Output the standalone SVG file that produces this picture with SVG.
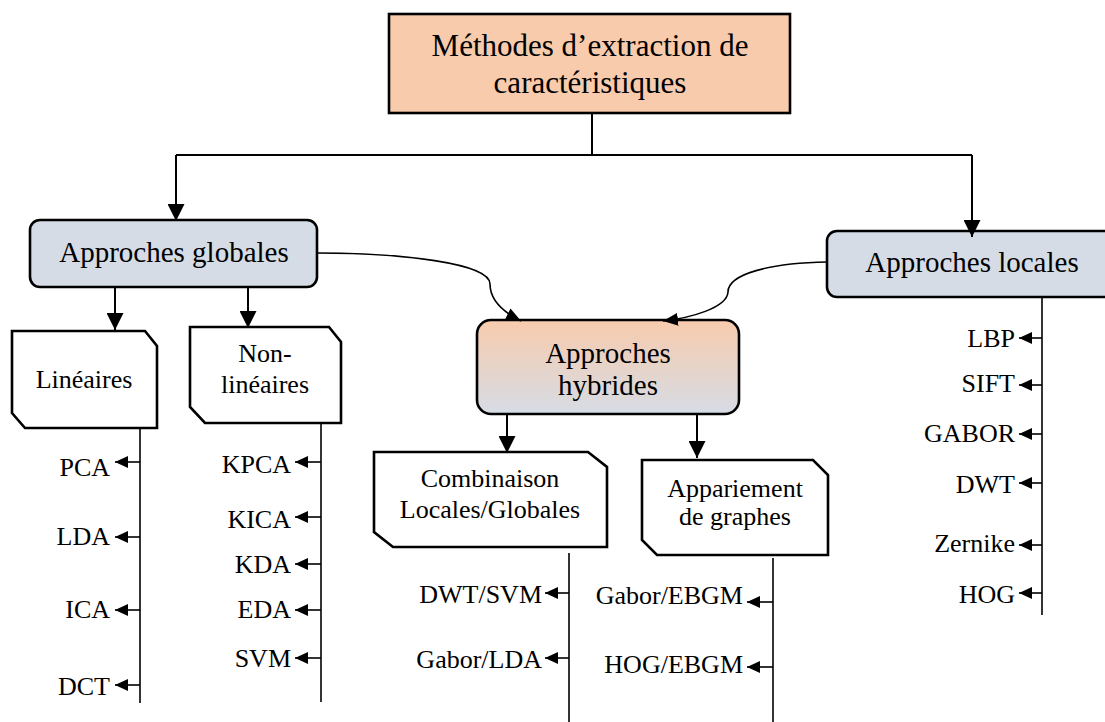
<svg xmlns="http://www.w3.org/2000/svg" width="1105" height="722" viewBox="0 0 1105 722">
  <style>
    text { font-family: "Liberation Serif", "Times New Roman", serif; fill: #000; }
    .t31 { font-size: 31px; text-anchor: middle; }
    .t29 { font-size: 29px; text-anchor: middle; }
    .t26 { font-size: 26px; text-anchor: middle; }
    .lbl { font-size: 26px; text-anchor: end; }
    .box { stroke: #000; stroke-width: 2.6; }
    .tag { fill: #fff; stroke: #000; stroke-width: 2.6; stroke-linejoin: miter; }
    .main { fill: none; stroke: #000; stroke-width: 2; }
    .curve { fill: none; stroke: #000; stroke-width: 1.6; }
    .spine { fill: none; stroke: #000; stroke-width: 1.6; }
    .tick { fill: none; stroke: #000; stroke-width: 1.6; }
  </style>
  <defs>
    <linearGradient id="hybridFill" x1="0" y1="0" x2="0" y2="1">
      <stop offset="0" stop-color="#F8CBAD"/>
      <stop offset="1" stop-color="#D6DCE5"/>
    </linearGradient>
    <marker id="bigHead" viewBox="0 0 10 10" refX="10" refY="5" markerWidth="17" markerHeight="17" markerUnits="userSpaceOnUse" orient="auto" preserveAspectRatio="none">
      <path d="M0,0 L10,5 L0,10 Z" fill="#000"/>
    </marker>
    <marker id="curveHead" viewBox="0 0 10 10" refX="10" refY="5" markerWidth="15" markerHeight="13" markerUnits="userSpaceOnUse" orient="auto" preserveAspectRatio="none">
      <path d="M0,0 L10,5 L0,10 Z" fill="#000"/>
    </marker>
    <marker id="tickHead" viewBox="0 0 10 10" refX="10" refY="5" markerWidth="13" markerHeight="12" markerUnits="userSpaceOnUse" orient="auto" preserveAspectRatio="none">
      <path d="M0,0 L10,5 L0,10 Z" fill="#000"/>
    </marker>
  </defs>

  <rect width="1105" height="722" fill="#fff"/>

  <!-- root -->
  <g id="node-methodes">
    <rect class="box" x="389" y="14" width="401" height="99" fill="#F8CBAD"/>
    <text class="t31" x="590" y="56">Méthodes d’extraction de</text>
    <text class="t31" x="590" y="93">caractéristiques</text>
  </g>

  <!-- first level -->
  <g id="node-globales">
    <rect class="box" x="30" y="220" width="287" height="67" rx="10" fill="#D6DCE5"/>
    <text class="t29" x="174" y="262">Approches globales</text>
  </g>
  <g id="node-locales">
    <rect class="box" x="827" y="231" width="290" height="66" rx="10" fill="#D6DCE5"/>
    <text class="t29" x="972" y="272">Approches locales</text>
  </g>
  <g id="node-hybrides">
    <rect class="box" x="477" y="320" width="262" height="94" rx="14" fill="url(#hybridFill)"/>
    <text class="t29" x="608" y="363">Approches</text>
    <text class="t29" x="608" y="395">hybrides</text>
  </g>

  <!-- second level -->
  <g id="node-lineaires">
    <path class="tag" d="M12,331 H145 L157,346 V428 H25 L12,413 Z"/>
    <text class="t26" x="84" y="388">Linéaires</text>
  </g>
  <g id="node-nonlineaires">
    <path class="tag" d="M190,327 H329 L341,342 V423 H205 L190,407 Z"/>
    <text class="t26" x="265" y="362">Non-</text>
    <text class="t26" x="265" y="393">linéaires</text>
  </g>
  <g id="node-combinaison">
    <path class="tag" d="M374,452 H588 L607,467 V547 H393 L374,532 Z"/>
    <text class="t26" x="490" y="487">Combinaison</text>
    <text class="t26" x="490" y="518">Locales/Globales</text>
  </g>
  <g id="node-appariement">
    <path class="tag" d="M642,460 H813 L828,475 V555 H657 L642,540 Z"/>
    <text class="t26" x="735" y="497">Appariement</text>
    <text class="t26" x="735" y="525">de graphes</text>
  </g>

  <!-- leaf labels -->
  <g id="leaves-lineaires">
    <text class="lbl" x="110" y="476">PCA</text>
    <text class="lbl" x="110" y="545">LDA</text>
    <text class="lbl" x="110" y="618">ICA</text>
    <text class="lbl" x="110" y="695">DCT</text>
  </g>
  <g id="leaves-nonlineaires">
    <text class="lbl" x="291" y="473">KPCA</text>
    <text class="lbl" x="291" y="528">KICA</text>
    <text class="lbl" x="291" y="573">KDA</text>
    <text class="lbl" x="291" y="618">EDA</text>
    <text class="lbl" x="291" y="667">SVM</text>
  </g>
  <g id="leaves-combinaison">
    <text class="lbl" x="542" y="603">DWT/SVM</text>
    <text class="lbl" x="542" y="668">Gabor/LDA</text>
  </g>
  <g id="leaves-appariement">
    <text class="lbl" x="743" y="604">Gabor/EBGM</text>
    <text class="lbl" x="743" y="673">HOG/EBGM</text>
  </g>
  <g id="leaves-locales">
    <text class="lbl" x="1015" y="347">LBP</text>
    <text class="lbl" x="1015" y="392">SIFT</text>
    <text class="lbl" x="1015" y="442">GABOR</text>
    <text class="lbl" x="1015" y="493">DWT</text>
    <text class="lbl" x="1015" y="552">Zernike</text>
    <text class="lbl" x="1015" y="603">HOG</text>
  </g>

  <!-- connectors -->
  <g id="connectors">
    <path class="main" d="M592,113 V155"/>
    <path class="main" d="M176,155 H972"/>
    <path class="main" d="M176,155 V221" marker-end="url(#bigHead)"/>
    <path class="main" d="M972,155 V237" marker-end="url(#bigHead)"/>
    <path class="main" d="M115,287 V330" marker-end="url(#bigHead)"/>
    <path class="main" d="M248,287 V328" marker-end="url(#bigHead)"/>
    <path class="main" d="M507,414 V453" marker-end="url(#bigHead)"/>
    <path class="main" d="M697,414 V458" marker-end="url(#bigHead)"/>

    <path class="curve" d="M317,253 C400,253 490,263 490,284 C490,300 503,312 521,321" marker-end="url(#curveHead)"/>
    <path class="curve" d="M827,262 C770,263 728,274 728,292 C727,308 690,318 663,321" marker-end="url(#curveHead)"/>

    <!-- leaf spines -->
    <path class="spine" d="M140,428 V703"/>
    <path class="spine" d="M321,423 V702"/>
    <path class="spine" d="M569,553 V722"/>
    <path class="spine" d="M773,558 V722"/>
    <path class="spine" d="M1042,297 V615"/>

    <!-- leaf ticks -->
    <path class="tick" d="M140,462 H115" marker-end="url(#tickHead)"/>
    <path class="tick" d="M140,537 H115" marker-end="url(#tickHead)"/>
    <path class="tick" d="M140,610 H115" marker-end="url(#tickHead)"/>
    <path class="tick" d="M140,685 H115" marker-end="url(#tickHead)"/>

    <path class="tick" d="M321,462 H295" marker-end="url(#tickHead)"/>
    <path class="tick" d="M321,517 H295" marker-end="url(#tickHead)"/>
    <path class="tick" d="M321,564 H295" marker-end="url(#tickHead)"/>
    <path class="tick" d="M321,610 H295" marker-end="url(#tickHead)"/>
    <path class="tick" d="M321,658 H295" marker-end="url(#tickHead)"/>

    <path class="tick" d="M569,593 H545" marker-end="url(#tickHead)"/>
    <path class="tick" d="M569,658 H545" marker-end="url(#tickHead)"/>

    <path class="tick" d="M773,602 H747" marker-end="url(#tickHead)"/>
    <path class="tick" d="M773,667 H747" marker-end="url(#tickHead)"/>

    <path class="tick" d="M1042,338 H1019" marker-end="url(#tickHead)"/>
    <path class="tick" d="M1042,385 H1019" marker-end="url(#tickHead)"/>
    <path class="tick" d="M1042,434 H1019" marker-end="url(#tickHead)"/>
    <path class="tick" d="M1042,483 H1019" marker-end="url(#tickHead)"/>
    <path class="tick" d="M1042,545 H1019" marker-end="url(#tickHead)"/>
    <path class="tick" d="M1042,593 H1019" marker-end="url(#tickHead)"/>
  </g>
</svg>
